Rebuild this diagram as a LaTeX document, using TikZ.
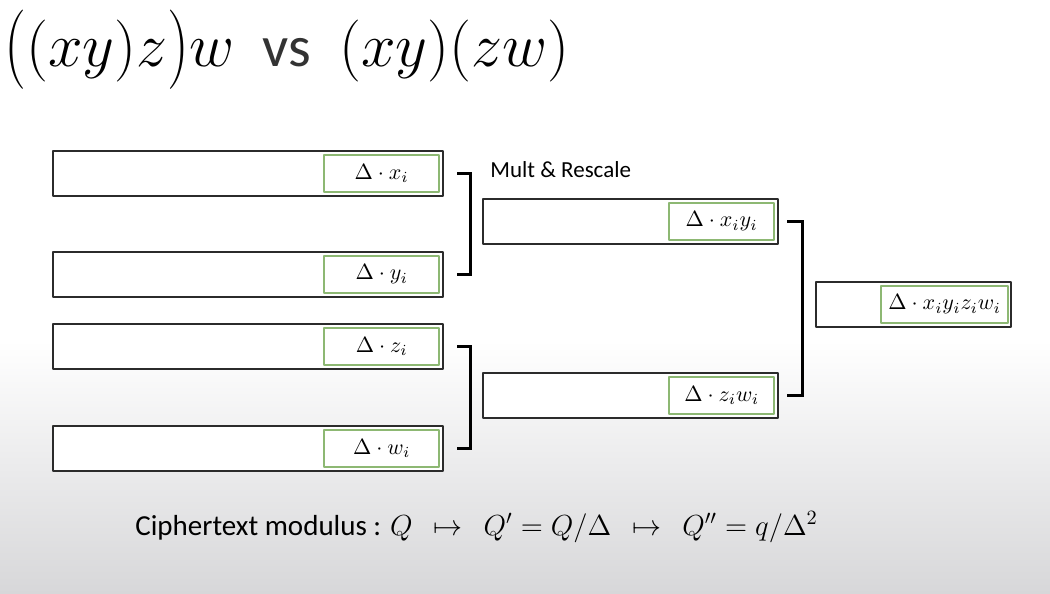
\RequirePackage{fix-cm}
\documentclass[tikz,border=0pt]{standalone}
\usepackage{amsmath}
\usepackage{fontspec}
\setmainfont{Carlito}
\usetikzlibrary{calc,positioning}
\definecolor{ckInk}{HTML}{2B2B2B}
\definecolor{ckGreen}{HTML}{8DB873}
\definecolor{ckShade}{HTML}{D7D7D9}
\newcommand{\tallparen}[1]{\raisebox{-1.5pt}{\scalebox{1}[1.28]{$#1$}}}
\tikzset{
 slide/.style={line cap=round,line join=round},
 slot/.style={draw=ckInk,fill=white,line width=1pt,inner sep=0pt,minimum height=22.5pt,anchor=north west},
 tag/.style={draw=ckGreen,fill=white,line width=.8pt,inner sep=0pt,minimum height=18.5pt,anchor=east,
   font=\fontsize{11}{13}\selectfont},
 bracket/.style={draw=black,line width=1.5pt,line join=miter,line cap=butt},
 headline/.style={font=\fontsize{31}{36}\selectfont,anchor=west,inner sep=0pt},
 modline/.style={font=\fontsize{14.5}{18}\selectfont,anchor=west,inner sep=0pt},
 steplabel/.style={font=\fontsize{11.5}{14}\selectfont,anchor=west,inner sep=0pt}
}

\begin{document}
\begin{tikzpicture}[slide,x=.5pt,y=-.5pt]
 \useasboundingbox (0,0) rectangle (1050,594);
 % slide background
 \fill[white] (0,0) rectangle (1050,341);
 \shade[top color=white,bottom color=ckShade] (0,340) rectangle (1050,594);
 \node[headline] (head) at (4,50) {\tallparen{(}$(xy)z$\tallparen{)}$w$\ \ {\fontsize{29}{34}\selectfont\color{black!80}vs}\ \ $(xy)(zw)$};
 % input ciphertexts
 \foreach \nm/\tp/\lbl in {x/150/x_i,y/251/y_i,z/323/z_i,w/425/w_i} {
  \node[slot,minimum width=195pt] (s\nm) at (52,\tp) {};
  \node[tag,minimum width=57.5pt] (t\nm) at ([xshift=-2pt]s\nm.east) {$\Delta\cdot \lbl$};
 }
 % first level
 \node[slot,minimum width=147.5pt] (sxy) at (482,198) {};
 \node[tag,minimum width=52.5pt] (txy) at ([xshift=-2pt]sxy.east) {$\Delta\cdot x_iy_i$};
 \node[slot,minimum width=147.5pt] (szw) at (482,372) {};
 \node[tag,minimum width=52.5pt] (tzw) at ([xshift=-2pt]szw.east) {$\Delta\cdot z_iw_i$};
 % second level
 \node[slot,minimum width=97.5pt] (sall) at (815,281) {};
 \node[tag,minimum width=63.5pt] (tall) at ([xshift=-1.5pt]sall.east) {$\Delta\cdot x_iy_iz_iw_i$};
 \node[steplabel] (mult) at (490,170) {Mult \& Rescale};
 % brackets
 \draw[bracket] ([xshift=6.5pt]sx.east) -- ++(6.5pt,0) |- ([xshift=6.5pt]sy.east);
 \draw[bracket] ([xshift=6.5pt]sz.east) -- ++(6.5pt,0) |- ([xshift=6.5pt]sw.east);
 \draw[bracket] ([xshift=4pt]sxy.east) -- ++(7.5pt,0) |- ([xshift=4pt]szw.east);
 \node[modline] (modulus) at (135,527) {Ciphertext modulus : $Q$\enspace\ $\mapsto$\enspace\ $Q'=Q/\Delta$\enspace\ $\mapsto$\enspace\ $Q''=q/\Delta^2$};
\end{tikzpicture}
\end{document}
